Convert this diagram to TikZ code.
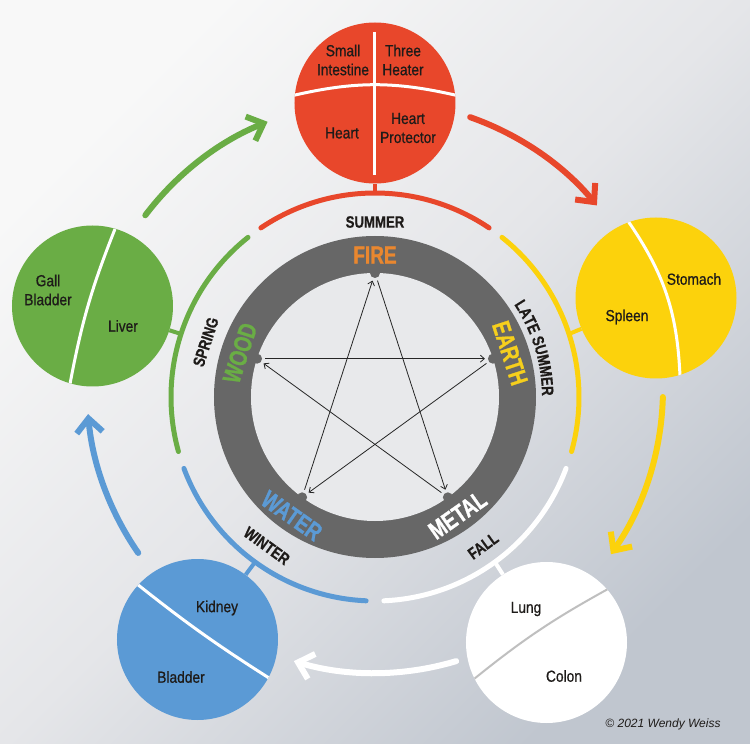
\documentclass[tikz,border=0pt]{standalone}
\usepackage{fontspec}
\setmainfont{Liberation Sans}
\newfontfamily\condA[FakeStretch=0.86,FakeBold=0.7]{Liberation Sans}
\newfontfamily\condB[FakeStretch=0.80,FakeBold=0.6]{Liberation Sans}
\newfontfamily\condC[FakeStretch=0.76,FakeBold=1]{Liberation Sans}
\newfontfamily\copyfnt{Liberation Sans}
\usetikzlibrary{arrows.meta,decorations.text,calc}
\definecolor{firec}{HTML}{E8472B}
\definecolor{firel}{HTML}{E9872F}
\definecolor{earthc}{HTML}{FCD20C}
\definecolor{earthl}{HTML}{F6CF1C}
\definecolor{waterc}{HTML}{5B9AD5}
\definecolor{woodc}{HTML}{6AAD45}
\definecolor{metalc}{HTML}{FFFFFF}
\definecolor{ringc}{HTML}{676767}
\definecolor{diskc}{HTML}{E8E9EB}
\definecolor{txt}{HTML}{1E1B19}
\definecolor{bgA}{HTML}{F8F8F8}
\definecolor{bgM}{HTML}{E5E6E9}
\definecolor{bgB}{HTML}{C0C6CF}
\newcommand\seasonfnt{\condB\bfseries\fontsize{16.5}{16.5}\selectfont\color{txt}}
\newcommand\elemfnt{\condC\bfseries\fontsize{25}{25}\selectfont}
\begin{document}
\begin{tikzpicture}[x=1pt,y=1pt,
  outarr/.style={line width=6pt, line cap=round, -{Straight Barb[length=14pt,width=26pt,line width=6pt]}},
  seasonarc/.style={line width=5pt, line cap=round},
  stemline/.style={line width=4pt},
  organ/.style={circle, minimum size=161pt, inner sep=0pt},
  divw/.style={draw=white, line width=3pt},
  divg/.style={draw=black!25, line width=2pt},
  orgtext/.style={font={\condA\fontsize{16}{19}\selectfont}, text=txt, align=center, inner sep=0pt},
  starln/.style={line width=0.8pt, draw=black!85, -{Straight Barb[length=4pt,width=7pt,line width=0.8pt]}, shorten <=8pt, shorten >=8pt},
  elem/.style={font=\elemfnt, inner sep=0pt},
  seas/.style={font=\seasonfnt, inner sep=0pt},
  lbl/.style={decorate}
]
\useasboundingbox (-375,-347) rectangle (375,397);
\shade[top color=bgA, bottom color=bgB, middle color=bgM, shading angle=45] (-375,-347) rectangle (375,397);

% outer cycle arrows
\begin{scope}[shift={(0,8)}]
\draw[outarr, firec]  (70.7:288) arc[start angle=70.7, end angle=39.6, radius=288];
\draw[outarr, earthc] (-1.6:288) arc[start angle=-1.6, end angle=-35, radius=288];
\draw[outarr, metalc] (-73.4:284) arc[start angle=-73.4, end angle=-106.6, radius=284];
\draw[outarr, waterc] (214.7:288) arc[start angle=214.7, end angle=185, radius=288];
\draw[outarr, woodc]  (142.9:288) arc[start angle=142.9, end angle=111.9, radius=288];
\end{scope}

% season arcs
\draw[seasonarc, firec]  (124:204) arc[start angle=124, end angle=56, radius=204];
\draw[seasonarc, earthc] (51.5:204) arc[start angle=51.5, end angle=-15.5, radius=204];
\draw[seasonarc, metalc] (-20.5:204) arc[start angle=-20.5, end angle=-87.5, radius=204];
\draw[seasonarc, waterc] (267.5:204) arc[start angle=267.5, end angle=200.5, radius=204];
\draw[seasonarc, woodc]  (195.5:204) arc[start angle=195.5, end angle=128.5, radius=204];

% organ circles
\node[organ, fill=firec]  (fire)  at (0,294) {};
\node[organ, fill=earthc] (earth) at (281,99) {};
\node[organ, fill=metalc] (metal) at (171.5,-245.5) {};
\node[organ, fill=waterc] (water) at (-177.5,-242.5) {};
\node[organ, fill=woodc]  (wood)  at (-282.5,91) {};

% stems
\coordinate (sF) at (90:204);
\coordinate (sE) at (18:204);
\coordinate (sM) at (-54:204);
\coordinate (sW) at (234:204);
\coordinate (sWo) at (162:204);
\draw[stemline, firec]  (sF) -- (fire);
\draw[stemline, earthc] (sE) -- (earth);
\draw[stemline, metalc] (sM) -- (metal);
\draw[stemline, waterc] (sW) -- (water);
\draw[stemline, woodc]  (sWo) -- (wood);

% dividers
\draw[divw] (0,365) -- (0,222);
\begin{scope}
\clip (fire.center) circle (80.5);
\draw[divw] (-82,301.5) to[bend left=13] (82,301.5);
\end{scope}
\begin{scope}
\clip (earth.center) circle (80.5);
\draw[divw] (253,176) to[bend left=16] (305,21);
\end{scope}
\begin{scope}
\clip (wood.center) circle (80.5);
\draw[divw] (-260,168) to[bend right=5.5] (-305,13);
\end{scope}
\begin{scope}
\clip (water.center) circle (80.5);
\draw[divw] (-238,-187) to[bend right=3] (-106,-281);
\end{scope}
\begin{scope}
\clip (metal.center) circle (80.5);
\draw[divg] (233,-192) to[bend right=5] (99,-282);
\end{scope}

% organ texts
\node[orgtext] (si) at (-32,337) {Small\\Intestine};
\node[orgtext] (th) at (28,337) {Three\\Heater};
\node[orgtext] (ht) at (-33,264) {Heart};
\node[orgtext] (hp) at (33,269) {Heart\\Protector};
\node[orgtext] (st) at (319,118) {Stomach};
\node[orgtext] (sp) at (252,80) {Spleen};
\node[orgtext] (gb) at (-327,107) {Gall\\Bladder};
\node[orgtext] (lv) at (-252,71) {Liver};
\node[orgtext] (kd) at (-158,-211) {Kidney};
\node[orgtext] (bl) at (-194,-280) {Bladder};
\node[orgtext] (lu) at (151,-212) {Lung};
\node[orgtext] (co) at (189,-279) {Colon};

% central ring
\fill[ringc] (0,0) circle (161);
\fill[diskc] (0,0) circle (124);
\coordinate (vF) at (90:124);
\coordinate (vE) at (18:124);
\coordinate (vM) at (-54:124);
\coordinate (vW) at (234:124);
\coordinate (vWo) at (162:124);
\foreach \v in {vF,vE,vM,vW,vWo} \fill[ringc] (\v) circle (5);

% controlling cycle (star)
\draw[starln] (vF) -- (vM);
\draw[starln] (vM) -- (vWo);
\draw[starln] (vWo) -- (vE);
\draw[starln] (vE) -- (vW);
\draw[starln] (vW) -- (vF);

% element labels
\node[elem, text=firel, rotate=0] (lFire) at (90:142) {FIRE};
\node[elem, text=woodc, rotate=72] (lWood) at (162:142) {WOOD};
\node[elem, text=earthl, rotate=-72] (lEarth) at (18:142) {EARTH};
\node[elem, text=waterc, rotate=325] (lWater) at (235:145) {WATER};
\node[elem, text=white, rotate=35] (lMetal) at (-55:144) {METAL};

% season labels
\node[seas, rotate=0] (sSummer) at (90:175) {SUMMER};
\node[seas, rotate=72] (sSpring) at (162:178) {SPRING};
\node[seas, rotate=324] (sWinter) at (234:184) {WINTER};
\node[seas, rotate=36] (sFall) at (-54:184) {FALL};
\path[lbl, decoration={text along path, text={|\seasonfnt|LATE SUMMER}, text align=center}] (52:167) arc[start angle=52, end angle=-18, radius=167];

% copyright
\node[font={\copyfnt\itshape\fontsize{12}{12}\selectfont}, text=txt, inner sep=0pt] (copy) at (288,-327) {© 2021 Wendy Weiss};
\end{tikzpicture}
\end{document}
